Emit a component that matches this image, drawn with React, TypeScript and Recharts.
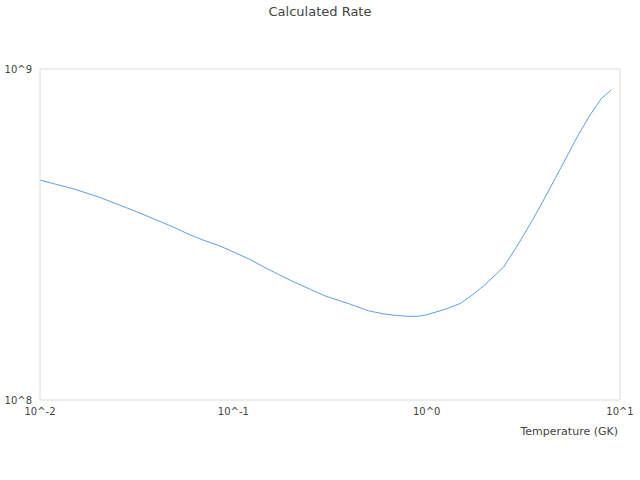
import React from 'react';
import { LineChart, Line, XAxis, YAxis, ReferenceLine } from 'recharts';

// temperature in GK
const temperatures = [
  0.01, 0.012, 0.015, 0.02, 0.025, 0.03, 0.04, 0.05, 0.06, 0.07, 0.08, 0.09,
  0.1, 0.12, 0.15, 0.2, 0.25, 0.3, 0.4, 0.5, 0.6, 0.7, 0.8, 0.9,
  1, 1.25, 1.5, 1.75, 2, 2.5, 3, 3.5, 4, 5, 6, 7, 8, 9,
];

const rates = [
  4.62e8, 4.49e8, 4.34e8, 4.11e8, 3.91e8, 3.75e8, 3.5e8, 3.31e8, 3.15e8, 3.04e8, 2.96e8, 2.88e8,
  2.8e8, 2.67e8, 2.49e8, 2.29e8, 2.16e8, 2.06e8, 1.95e8, 1.86e8, 1.82e8, 1.8e8, 1.79e8, 1.79e8,
  1.81e8, 1.88e8, 1.96e8, 2.09e8, 2.23e8, 2.52e8, 2.98e8, 3.47e8, 3.99e8, 5.09e8, 6.23e8, 7.26e8, 8.14e8, 8.64e8,
];

const xTicks = [0.01, 0.1, 1, 10];
const yTicks = [1e8, 1e9];

const data = temperatures.map((t, i) => ({ t, rate: rates[i] }));

const powerLabel = (v: number) => `10^${Math.round(Math.log10(v))}`;

const FONT = '"DejaVu Sans", sans-serif';
const TEXT = '#444';
const BORDER = '#dadada';

export default function App() {
  return (
    <div style={{ position: 'absolute', left: 0, top: 0, width: 640, height: 480, fontFamily: FONT }}>
      <div
        style={{
          position: 'absolute',
          top: 4,
          width: 640,
          textAlign: 'center',
          fontSize: 13,
          color: TEXT,
        }}
      >
        Calculated Rate
      </div>
      <LineChart width={640} height={480} data={data} margin={{ top: 69, right: 20, bottom: 40, left: 0 }}>
        <XAxis
          dataKey="t"
          type="number"
          scale="log"
          domain={[0.01, 10]}
          ticks={xTicks}
          tickFormatter={powerLabel}
          tickLine={false}
          axisLine={{ stroke: BORDER }}
          tick={{ fill: TEXT, fontSize: 10, fontFamily: FONT }}
          height={40}
          label={{
            value: 'Temperature (GK)',
            position: 'insideBottomRight',
            offset: 2,
            dy: -3,
            fill: TEXT,
            fontSize: 11,
            fontFamily: FONT,
          }}
        />
        <YAxis
          type="number"
          scale="log"
          domain={[1e8, 1e9]}
          ticks={yTicks}
          tickFormatter={powerLabel}
          tickLine={false}
          axisLine={{ stroke: BORDER }}
          tick={{ fill: TEXT, fontSize: 10, fontFamily: FONT }}
          width={40}
        />
        <ReferenceLine y={1e9} stroke={BORDER} />
        <ReferenceLine x={10} stroke={BORDER} />
        <Line
          type="linear"
          dataKey="rate"
          stroke="#5a9ff0"
          strokeWidth={1}
          dot={false}
          isAnimationActive={false}
        />
      </LineChart>
    </div>
  );
}
